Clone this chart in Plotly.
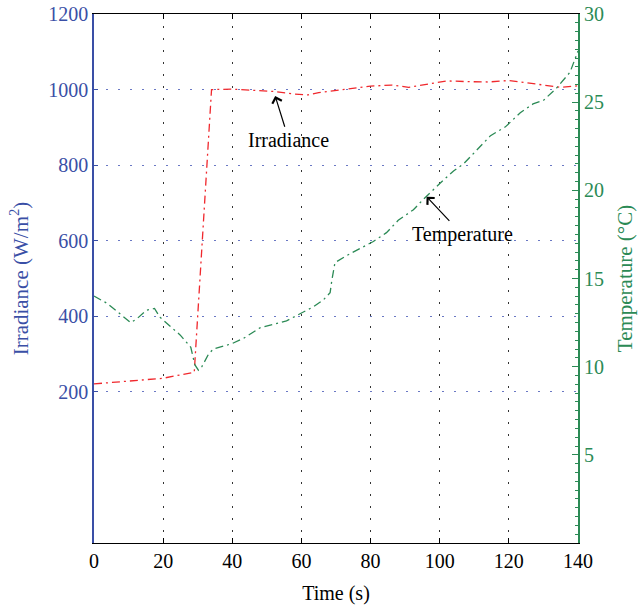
import plotly.graph_objects as go

# Irradiance (W/m^2), left axis
t_irr = [0, 10, 20, 29, 34, 40, 46, 52, 58, 62, 65, 70, 75, 80, 86, 91, 97, 102, 108, 114, 120, 125, 130, 135, 140]
irr = [221, 228, 236, 252, 1000, 1001, 999, 995, 988, 986, 992, 998, 1002, 1009, 1012, 1006, 1015, 1023, 1021, 1020, 1024, 1018, 1012, 1006, 1010]

# Temperature (°C), right axis
t_temp = [0, 3.7, 7.5, 10.6, 12.3, 15.2, 17.5, 19.1, 24.9, 28, 28.7, 29.2, 30.2, 31.2, 33.1, 34.5, 39.8, 43.2, 48,
          51.9, 55.7, 59.6, 63.5, 66.4, 68.3, 68.8, 69.7, 73.1, 76.9, 80.8, 84.6, 88, 92.4, 95.3, 100.1, 104, 106.9,
          110.3, 114.7, 119, 123.3, 127, 130, 133.8, 137.7, 140]
temp = [14.0, 13.6, 13.0, 12.5, 12.7, 13.2, 13.3, 12.8, 11.8, 11.1, 10.5, 10.1, 9.8, 10.0, 10.7, 11.0, 11.3, 11.6, 12.2,
        12.4, 12.6, 13.0, 13.4, 13.8, 14.2, 14.9, 15.9, 16.3, 16.7, 17.1, 17.6, 18.3, 18.9, 19.5, 20.4, 21.1, 21.5,
        22.2, 23.1, 23.6, 24.4, 24.9, 25.1, 25.8, 26.7, 27.9]

x_ticks = [0, 20, 40, 60, 80, 100, 120, 140]
y1_ticks = [200, 400, 600, 800, 1000, 1200]
y2_ticks = [5, 10, 15, 20, 25, 30]

BLUE = "#3a4fa6"
GREEN = "#2b8a55"
RED = "#f0282d"
FONT = "Liberation Serif"
FS = 20

fig = go.Figure()
fig.add_trace(go.Scatter(x=t_irr, y=irr, mode="lines", yaxis="y",
                         line=dict(color=RED, width=1.3, dash="8px,4px,2px,4px"), showlegend=False))
fig.add_trace(go.Scatter(x=t_temp, y=temp, mode="lines", yaxis="y2",
                         line=dict(color=GREEN, width=1.3, dash="8px,4px,2px,4px"), showlegend=False))

# labelled arrows: arrow tip at (x, y), label centred at (ax, ay)
fig.add_annotation(x=52.4, y=983, ax=56.4, ay=866, xref="x", yref="y", axref="x", ayref="y",
                   text="Irradiance", showarrow=True, arrowhead=4, arrowsize=1.6, arrowwidth=1.2,
                   arrowcolor="black", standoff=0, borderpad=2,
                   font=dict(family=FONT, size=FS, color="black"))
fig.add_annotation(x=96.2, y=19.64, ax=106.6, ay=17.47, xref="x", yref="y2", axref="x", ayref="y2",
                   text="Temperature", showarrow=True, arrowhead=4, arrowsize=1.6, arrowwidth=1.2,
                   arrowcolor="black", standoff=0, borderpad=2,
                   font=dict(family=FONT, size=FS, color="black"))

fig.update_layout(
    width=640, height=608,
    margin=dict(l=94, r=62, t=14, b=65),
    plot_bgcolor="white", paper_bgcolor="white",
    font=dict(family=FONT, size=FS),
    xaxis=dict(range=[0, 140], tickvals=x_ticks, showline=True, linecolor="black", linewidth=1,
               mirror="ticks", ticks="inside", ticklen=5, tickcolor="black", automargin=False,
               showgrid=True, gridcolor="#333333", griddash="2px,10px", gridwidth=1, zeroline=False,
               tickfont=dict(family=FONT, size=FS, color="black"),
               title=dict(text="Time (s)", font=dict(family=FONT, size=FS, color="black"), standoff=14)),
    yaxis=dict(range=[-200, 1200], tickvals=y1_ticks, showline=True, linecolor=BLUE, linewidth=1.5,
               ticks="inside", ticklen=4, tickcolor=BLUE, automargin=False,
               showgrid=True, gridcolor="#6a78c4", griddash="2px,10px", gridwidth=1, zeroline=False,
               tickfont=dict(family=FONT, size=FS, color=BLUE),
               title=dict(text="Irradiance (W/m<sup>2</sup>)", font=dict(family=FONT, size=FS + 1, color=BLUE),
                          standoff=14)),
    yaxis2=dict(range=[0, 30], tickvals=y2_ticks, overlaying="y", side="right", anchor="x",
                showline=True, linecolor=GREEN, linewidth=2, automargin=False,
                ticks="inside", ticklen=6, tickcolor=GREEN,
                minor=dict(dtick=0.5, ticks="inside", ticklen=3, tickcolor=GREEN),
                showgrid=False, zeroline=False,
                tickfont=dict(family=FONT, size=FS, color=GREEN),
                title=dict(text="Temperature (°C)", font=dict(family=FONT, size=FS + 1, color=GREEN), standoff=14)),
)

fig.write_html("out.html")
